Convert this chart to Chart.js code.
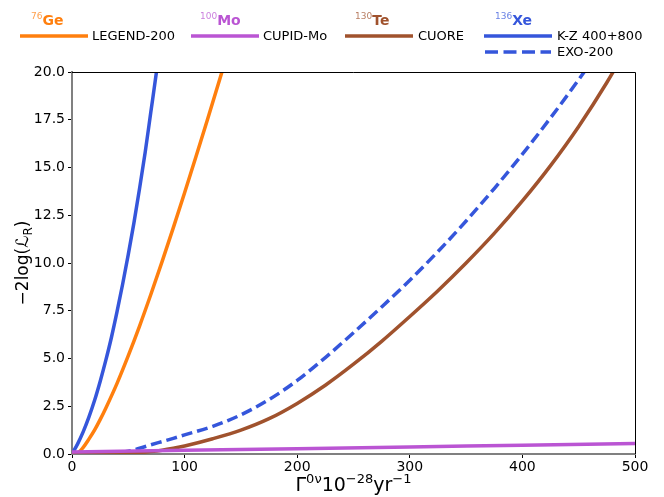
<!DOCTYPE html>
<html lang="en">
<head>
  <meta charset="UTF-8">
  <title>Likelihood ratio curves</title>
  <style>
    body {
      margin: 0;
      background: #fff;
      font-family: 'DejaVu Sans', sans-serif;
    }
    #wrap {
      position: relative;
      width: 664px;
      height: 497px;
    }
    canvas { position: absolute; left: 0; top: 0; }
    .hdr {
      position: absolute;
      top: 7px;
      font-size: 14px;
      font-weight: bold;
      line-height: 18px;
      white-space: nowrap;
    }
    .hdr sup {
      font-size: 9px;
      font-weight: normal;
      opacity: 0.75;
      vertical-align: 6px;
    }
    .sw {
      position: absolute;
    }
    .lbl {
      position: absolute;
      font-size: 13px;
      line-height: 16px;
      color: #000;
      white-space: nowrap;
    }
  </style>
  <script src="https://cdn.jsdelivr.net/npm/chart.js"></script>
</head>
<body>
<div id="wrap">
  <canvas id="c" width="664" height="497"></canvas>

  <!-- legend -->
  <div class="hdr" style="left:31px;color:#ff7f0e"><sup>76</sup>Ge</div>
  <svg class="sw" style="left:20px;top:33px" width="68" height="6"><line x1="0" y1="3" x2="68" y2="3" stroke="#ff7f0e" stroke-width="3.5"/></svg>
  <div class="lbl" style="left:92px;top:28px">LEGEND-200</div>

  <div class="hdr" style="left:200px;color:#ba55d3"><sup>100</sup>Mo</div>
  <svg class="sw" style="left:191px;top:33px" width="68" height="6"><line x1="0" y1="3" x2="68" y2="3" stroke="#ba55d3" stroke-width="3.5"/></svg>
  <div class="lbl" style="left:263px;top:28px">CUPID-Mo</div>

  <div class="hdr" style="left:355px;color:#a0522d"><sup>130</sup>Te</div>
  <svg class="sw" style="left:345px;top:33px" width="68" height="6"><line x1="0" y1="3" x2="68" y2="3" stroke="#a0522d" stroke-width="3.5"/></svg>
  <div class="lbl" style="left:418px;top:28px">CUORE</div>

  <div class="hdr" style="left:495px;color:#3556db"><sup>136</sup>Xe</div>
  <svg class="sw" style="left:484px;top:33px" width="68" height="6"><line x1="0" y1="3" x2="68" y2="3" stroke="#3556db" stroke-width="3.5"/></svg>
  <div class="lbl" style="left:557px;top:28px">K-Z 400+800</div>
  <svg class="sw" style="left:485px;top:49px" width="68" height="6"><line x1="0" y1="3" x2="66" y2="3" stroke="#3556db" stroke-width="3.5" stroke-dasharray="13,5.5"/></svg>
  <div class="lbl" style="left:557px;top:44px">EXO-200</div>
</div>

<script>
  // K-Z 400+800 (136Xe)
  const kzX = [0, 5, 10, 15, 20, 25, 30, 35, 40, 45, 50, 55, 60, 65, 70, 75, 80];
  const kzY = [0, 0.53, 1.17, 1.93, 2.8, 3.8, 4.9, 6.1, 7.45, 8.9, 10.45, 12.1, 13.9, 15.8, 17.9, 20.0, 22.3];

  // EXO-200 (136Xe)
  const exoX = [0, 25, 40, 50, 60, 70, 80, 90, 100, 125, 150, 175, 200, 225, 250, 275, 300, 325, 350, 375, 400, 425, 450, 475];
  const exoY = [0.05, 0.05, 0.07, 0.15, 0.3, 0.48, 0.65, 0.82, 1.0, 1.45, 2.05, 2.85, 3.85, 5.05, 6.35, 7.7, 9.1, 10.6, 12.2, 13.9, 15.7, 17.6, 19.6, 21.7];

  // LEGEND-200 (76Ge)
  const legX = [0, 5, 10, 15, 20, 25, 30, 40, 50, 60, 70, 80, 90, 100, 110, 120, 130, 140];
  const legY = [0, 0.05, 0.35, 0.78, 1.25, 1.8, 2.4, 3.7, 5.15, 6.7, 8.35, 10.07, 11.85, 13.68, 15.55, 17.45, 19.38, 21.34];

  // CUPID-Mo (100Mo)
  const cupX = [0, 100, 200, 300, 400, 500];
  const cupY = [0.1, 0.19, 0.28, 0.37, 0.46, 0.55];

  // CUORE (130Te)
  const cuoX = [0, 25, 50, 60, 70, 80, 90, 100, 125, 150, 175, 200, 225, 250, 275, 300, 325, 350, 375, 400, 425, 450, 475, 500];
  const cuoY = [0.02, 0.02, 0.05, 0.08, 0.13, 0.2, 0.3, 0.42, 0.8, 1.25, 1.85, 2.65, 3.6, 4.7, 5.9, 7.2, 8.55, 10.0, 11.55, 13.25, 15.1, 17.15, 19.45, 22.0];

  const xTicks = [0, 100, 200, 300, 400, 500];
  const yTicks = [0, 2.5, 5, 7.5, 10, 12.5, 15, 17.5, 20];

  function pts(xs, ys) {
    return xs.map((x, i) => ({ x: x, y: ys[i] }));
  }

  function line(data, color, dash) {
    return {
      data: data,
      showLine: true,
      borderColor: color,
      backgroundColor: color,
      borderWidth: 3.5,
      borderDash: dash || [],
      pointRadius: 0,
      cubicInterpolationMode: 'monotone',
      fill: false
    };
  }

  // axis titles with super/subscripts + black top/right spines
  const extras = {
    id: 'extras',
    afterDraw(chart) {
      const ctx = chart.ctx;
      const a = chart.chartArea;
      ctx.save();
      ctx.strokeStyle = '#000';
      ctx.lineWidth = 1;
      ctx.beginPath();
      ctx.moveTo(a.left, a.top + 0.5);
      ctx.lineTo(a.right + 0.5, a.top + 0.5);
      ctx.lineTo(a.right + 0.5, a.bottom);
      ctx.stroke();

      ctx.fillStyle = '#000';
      ctx.textBaseline = 'alphabetic';
      const big = '19px "DejaVu Sans"';
      const small = '13px "DejaVu Sans"';

      const xParts = [['Γ', big, 0], ['0ν', small, -8], ['10', big, 0], ['−28', small, -8], ['yr', big, 0], ['−1', small, -8]];
      let w = 0;
      xParts.forEach(p => { ctx.font = p[1]; w += ctx.measureText(p[0]).width; });
      let x = (a.left + a.right) / 2 - w / 2;
      xParts.forEach(p => {
        ctx.font = p[1];
        ctx.fillText(p[0], x, 491 + p[2]);
        x += ctx.measureText(p[0]).width;
      });

      const yBig = '17px "DejaVu Sans"';
      const ySmall = '12px "DejaVu Sans"';
      const yParts = [['−2log(ℒ', yBig, 0], ['R', ySmall, 4], [')', yBig, 0]];
      w = 0;
      yParts.forEach(p => { ctx.font = p[1]; w += ctx.measureText(p[0]).width; });
      ctx.translate(28, (a.top + a.bottom) / 2);
      ctx.rotate(-Math.PI / 2);
      x = -w / 2;
      yParts.forEach(p => {
        ctx.font = p[1];
        ctx.fillText(p[0], x, p[2]);
        x += ctx.measureText(p[0]).width;
      });
      ctx.restore();
    }
  };

  const tickFont = { family: 'DejaVu Sans', size: 14 };

  new Chart(document.getElementById('c').getContext('2d'), {
    type: 'scatter',
    data: {
      datasets: [
        line(pts(cupX, cupY), '#ba55d3'),
        line(pts(cuoX, cuoY), '#a0522d'),
        line(pts(exoX, exoY), '#3556db', [11, 5]),
        line(pts(legX, legY), '#ff7f0e'),
        line(pts(kzX, kzY), '#3556db')
      ]
    },
    options: {
      responsive: false,
      animation: false,
      layout: { padding: { top: 72, right: 29, left: 0, bottom: 0 } },
      plugins: { legend: { display: false }, tooltip: { enabled: false } },
      scales: {
        x: {
          type: 'linear',
          min: 0,
          max: 500,
          afterBuildTicks: s => { s.ticks = xTicks.map(v => ({ value: v })); },
          ticks: { color: '#000', font: tickFont, padding: 1, maxRotation: 0 },
          grid: { drawOnChartArea: false, drawTicks: true, tickLength: 4, color: '#000' },
          border: { color: '#808080', width: 2 },
          afterFit: s => { s.height = 43; }
        },
        y: {
          min: 0,
          max: 20,
          afterBuildTicks: s => { s.ticks = yTicks.map(v => ({ value: v })); },
          ticks: { color: '#000', font: tickFont, padding: 3, callback: v => v.toFixed(1) },
          grid: { drawOnChartArea: false, drawTicks: true, tickLength: 4, color: '#000' },
          border: { color: '#808080', width: 2 },
          afterFit: s => { s.width = 72; }
        }
      }
    },
    plugins: [extras]
  });
</script>
</body>
</html>
